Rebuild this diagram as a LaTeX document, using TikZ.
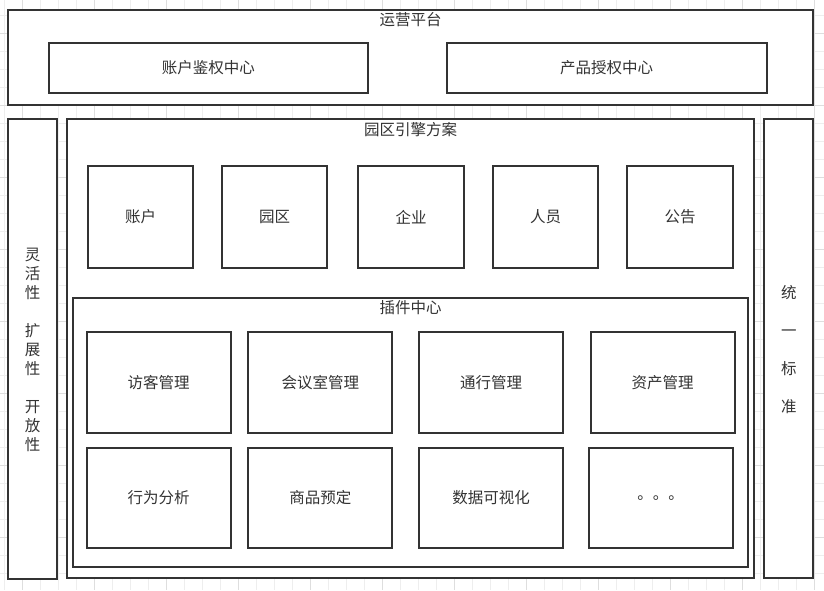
\documentclass[tikz,border=0pt]{standalone}
\usepackage{fontspec}
\setmainfont{Noto Sans CJK SC}
\definecolor{lineC}{HTML}{333333}
\definecolor{textC}{HTML}{333333}
\definecolor{gridMinor}{HTML}{EEEEEE}
\definecolor{gridMajor}{HTML}{DEDEDE}
\tikzset{
  box/.style={draw=lineC, line width=2pt, fill=white, inner sep=0pt, outer sep=0pt,
    text=textC, font=\fontsize{15.5}{19}\selectfont},
  ttl/.style={text=textC, font=\fontsize{15.5}{19}\selectfont, inner sep=0pt},
  vtxt/.style={text=textC, font=\fontsize{15.5}{19}\selectfont, align=center, inner sep=0pt},
}
\begin{document}
\begin{tikzpicture}[x=1pt,y=-1pt]
\useasboundingbox (0,0) rectangle (824,590);
\fill[white] (0,0) rectangle (824,590);
% grid
\foreach \gx in {4,22,...,824} \draw[gridMinor, line width=1pt] (\gx,0) -- (\gx,590);
\foreach \gy in {-2.5,15.5,...,590} \draw[gridMinor, line width=1pt] (0,\gy) -- (824,\gy);
\foreach \gx in {22,94,...,824} \draw[gridMajor, line width=1pt] (\gx,0) -- (\gx,590);
\foreach \gy in {33.5,105.5,...,590} \draw[gridMajor, line width=1pt] (0,\gy) -- (824,\gy);

% top platform
\node[box, minimum width=805pt, minimum height=94.5pt] (platform) at (410.5,57.25) {};
\node[ttl] (platformT) at (410.5,20) {运营平台};
\node[box, minimum width=319.3pt, minimum height=49.4pt] (auth) at (208.3,68) {账户鉴权中心};
\node[box, minimum width=320pt, minimum height=49.4pt] (prod) at (606.7,68) {产品授权中心};

% side bars
\node[box, minimum width=49.3pt, minimum height=459.7pt] (left) at (32.7,349.2) {};
\node[vtxt] (leftT) at (32.7,349.5) {灵\\活\\性\\[19pt]扩\\展\\性\\[19pt]开\\放\\性};
\node[box, minimum width=49pt, minimum height=459pt] (right) at (788.8,348.8) {};
\node[vtxt] (rightT) at (788.8,349.5) {统\\[19pt]一\\[19pt]标\\[19pt]准};

% main
\node[box, minimum width=687.6pt, minimum height=459pt] (main) at (410.5,348.8) {};
\node[ttl] (mainT) at (410.5,130) {园区引擎方案};

\foreach \nm/\cx/\tx in {acc/140.5/账户, park/274.5/园区, ent/411.2/企业, ppl/545.5/人员, notice/680.2/公告}
  \node[box, minimum width=105.6pt, minimum height=102pt] (\nm) at (\cx,217) {\tx};

% plugin center
\node[box, minimum width=675.6pt, minimum height=269pt] (plugin) at (410.5,432.3) {};
\node[ttl] (pluginT) at (410.5,307.5) {插件中心};

\foreach \nm/\cx/\tx in {visit/158.7/访客管理, meet/320.3/会议室管理, pass/491.2/通行管理, asset/662.7/资产管理}
  \node[box, minimum width=144pt, minimum height=101.3pt] (\nm) at (\cx,382.3) {\tx};
\foreach \nm/\cx/\tx in {behav/158.7/行为分析, goods/320.3/商品预定, dataviz/491.2/数据可视化, more/660.7/。。。}
  \node[box, minimum width=144pt, minimum height=100.2pt] (\nm) at (\cx,497.9) {\tx};
\end{tikzpicture}
\end{document}
